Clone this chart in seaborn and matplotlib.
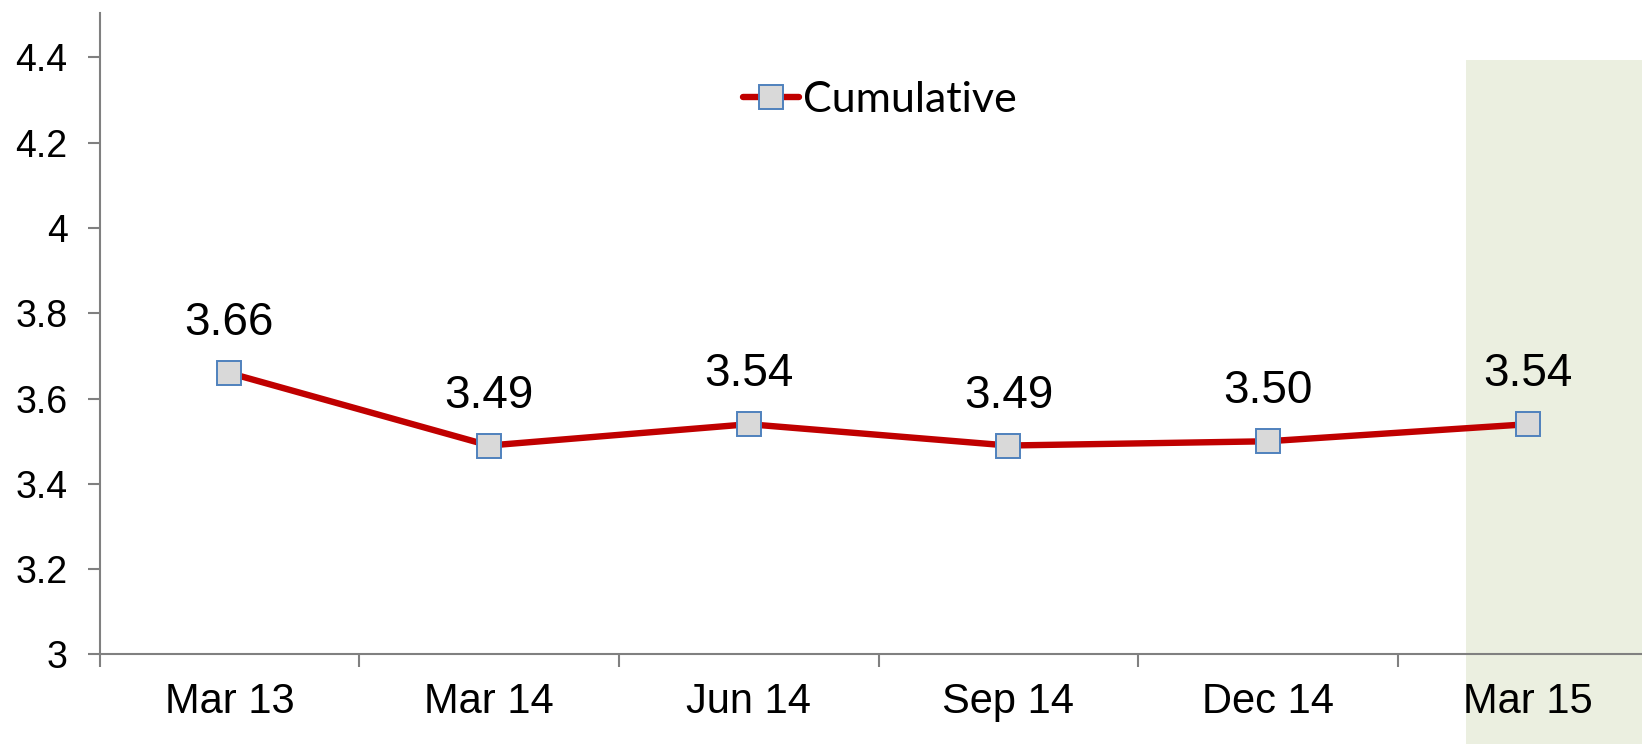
import matplotlib
matplotlib.use("Agg")
import matplotlib.pyplot as plt
import seaborn as sns
import numpy as np
import pandas as pd
from matplotlib.patches import Rectangle
from matplotlib.ticker import FixedLocator

# data
periods = ["Mar 13", "Mar 14", "Jun 14", "Sep 14", "Dec 14", "Mar 15"]
cumulative = [3.66, 3.49, 3.54, 3.49, 3.50, 3.54]
value_labels = ["3.66", "3.49", "3.54", "3.49", "3.50", "3.54"]
y_ticks = [3, 3.2, 3.4, 3.6, 3.8, 4, 4.2, 4.4]
y_ticklabels = ["3", "3.2", "3.4", "3.6", "3.8", "4", "4.2", "4.4"]
highlight_period = "Mar 15"

sns.set_style("white")
plt.rcParams["font.family"] = ["Liberation Sans", "DejaVu Sans"]
plt.rcParams["text.color"] = "black"
plt.rcParams["xtick.labelcolor"] = "black"
plt.rcParams["ytick.labelcolor"] = "black"

df = pd.DataFrame({"pos": np.arange(len(periods)), "period": periods, "value": cumulative})

fig = plt.figure(figsize=(16.42, 7.44), dpi=100)
ax = fig.add_axes([0.0606, 0.1203, 1 - 0.0606, 0.983 - 0.1203])

# shaded forecast column (runs below the axis into the label area)
hi = periods.index(highlight_period)
ax.add_patch(Rectangle((hi - 0.238, 2.6), 0.8, 4.395 - 2.6, facecolor="#EBEFE0",
                       edgecolor="none", zorder=0, clip_on=False))

sns.lineplot(data=df, x="pos", y="value", ax=ax, color="#C00000", linewidth=4.6,
             marker="s", markersize=17, markerfacecolor="#D9D9D9",
             markeredgecolor="#4F81BD", markeredgewidth=1.4, label="Cumulative", zorder=3)

for x, y, t in zip(df["pos"], df["value"], value_labels):
    ax.annotate(t, (x, y), xytext=(0, 36), textcoords="offset points",
                ha="center", va="center", fontsize=33, color="black")

ax.set_xlim(-0.5, 5.44)
ax.set_ylim(3, 4.505)
ax.set_xticks(df["pos"])
ax.set_xticklabels(periods, fontsize=30, color="black")
ax.xaxis.set_minor_locator(FixedLocator(np.arange(-0.5, len(periods), 1)))
ax.tick_params(axis="x", which="major", length=0, pad=20)
ax.tick_params(axis="x", which="minor", length=9, width=1.5, color="#808080", direction="out", bottom=True)
ax.set_yticks(y_ticks)
ax.set_yticklabels(y_ticklabels, fontsize=27, color="black")
ax.tick_params(axis="y", length=9, width=1.5, color="#808080", direction="out", left=True, pad=14)
ax.set_xlabel("")
ax.set_ylabel("")

for s in ["top", "right"]:
    ax.spines[s].set_visible(False)
for s in ["left", "bottom"]:
    ax.spines[s].set_color("#808080")
    ax.spines[s].set_linewidth(1.5)
ax.patch.set_alpha(0)

leg = ax.legend(loc="center", bbox_to_anchor=(0.536, 0.866), bbox_transform=fig.transFigure,
                frameon=False, handlelength=1.3, handletextpad=0.1,
                prop={"family": "Lato", "size": 31})
for t in leg.get_texts():
    t.set_color("black")

fig.savefig("out.png", dpi=100)
